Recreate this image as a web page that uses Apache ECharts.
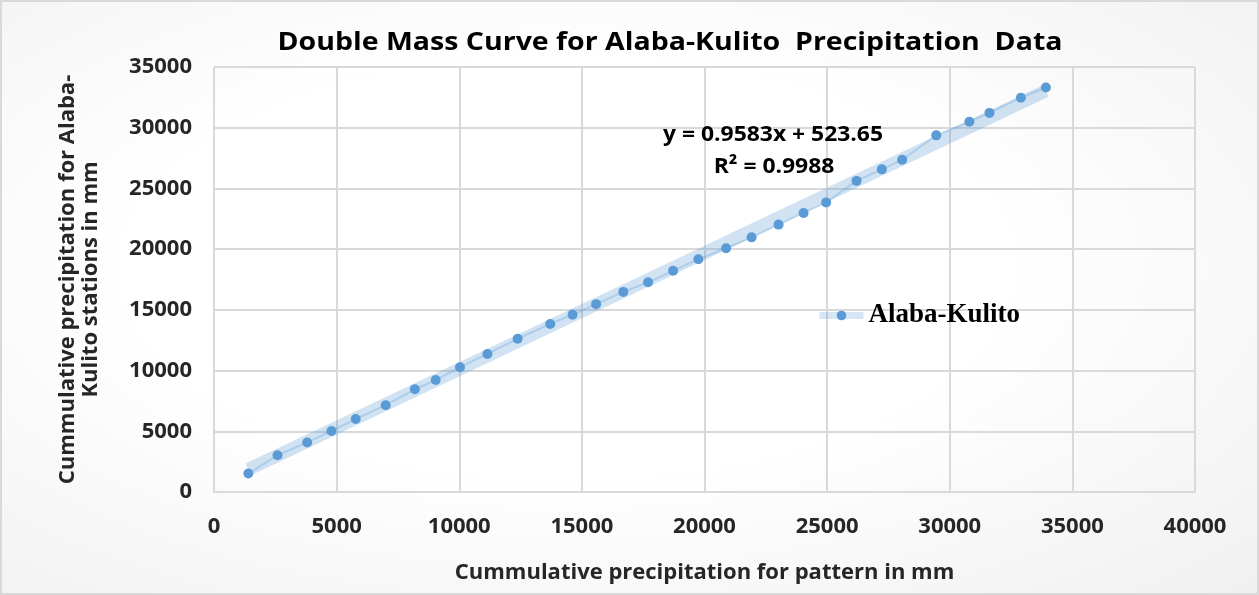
<!DOCTYPE html>
<html>
<head>
<meta charset="utf-8">
<script src="https://cdn.jsdelivr.net/npm/echarts@6/dist/echarts.min.js"></script>
<style>
  html, body { margin: 0; padding: 0; }
  #chart {
    width: 1259px; height: 595px; box-sizing: border-box;
    border: 2px solid #d9d9d9;
    background: radial-gradient(ellipse at 45% 45%, #ffffff 0%, #ffffff 45%, #f0f0f0 100%);
  }
</style>
</head>
<body>
<div id="chart"></div>
<script>
// Cumulative precipitation of the pattern (x) and Alaba-Kulito stations (y), mm
const patternCum = [1400, 2590, 3800, 4790, 5780, 7000, 8190, 9040, 10030, 11150,
  12380, 13710, 14620, 15580, 16690, 17700, 18720, 19750, 20880, 21920,
  23020, 24040, 24960, 26200, 27230, 28060, 29450, 30800, 31620, 32900, 33920];
const stationCum = [1520, 3020, 4080, 5030, 6010, 7150, 8460, 9220, 10280, 11370,
  12620, 13840, 14600, 15470, 16480, 17270, 18220, 19170, 20070, 20970,
  22020, 22980, 23850, 25620, 26570, 27360, 29370, 30490, 31220, 32470, 33310];

// Linear trend fitted to the series
const slope = 0.9583;
const intercept = 523.65;
const rSquared = 0.9988;

const xTicks = { min: 0, max: 40000, interval: 5000 };
const yTicks = { min: 0, max: 35000, interval: 5000 };

const seriesName = 'Alaba-Kulito';
const chartTitle = 'Double Mass Curve for Alaba-Kulito  Precipitation  Data';
const xName = 'Cummulative precipitation for pattern in mm';
const yName = 'Cummulative precipitation for Alaba-\nKulito stations in mm';

const points = patternCum.map((x, i) => [x, stationCum[i]]);
const xFirst = patternCum[0], xLast = patternCum[patternCum.length - 1];
const trend = [[xFirst, slope * xFirst + intercept], [xLast, slope * xLast + intercept]];

const blue = '#5B9BD5';
const uiFont = '"Open Sans", "DejaVu Sans", sans-serif';
const textColor = '#262626';
const plain = v => String(v);

const chart = echarts.init(document.getElementById('chart'), null, { renderer: 'canvas' });
chart.setOption({
  animation: false,
  backgroundColor: 'transparent',
  grid: { left: 212, right: 62, top: 65, bottom: 101 },
  legend: {
    data: [seriesName],
    left: 809, top: 295,
    itemWidth: 44, itemHeight: 12, itemGap: 8,
    lineStyle: { width: 7, color: 'rgba(91,155,213,0.25)' },
    textStyle: { fontFamily: '"Liberation Serif", "Times New Roman", serif', fontWeight: 'bold', fontSize: 27, color: '#000' }
  },
  xAxis: {
    type: 'value', min: xTicks.min, max: xTicks.max, interval: xTicks.interval,
    name: xName, nameLocation: 'middle', nameGap: 70,
    nameTextStyle: { fontFamily: uiFont, fontWeight: 'bold', fontSize: 22, color: textColor },
    axisLine: { show: true, lineStyle: { color: '#d9d9d9', width: 2 } },
    axisTick: { show: false },
    axisLabel: { fontFamily: uiFont, fontWeight: 'bold', fontSize: 22, color: textColor, margin: 24, formatter: plain },
    splitLine: { show: true, lineStyle: { color: '#d9d9d9', width: 2 } }
  },
  yAxis: {
    type: 'value', min: yTicks.min, max: yTicks.max, interval: yTicks.interval,
    name: yName, nameLocation: 'middle', nameGap: 112, nameRotate: 90,
    nameTextStyle: { fontFamily: uiFont, fontWeight: 'bold', fontSize: 22, color: textColor, lineHeight: 23 },
    axisLine: { show: false },
    axisTick: { show: false },
    axisLabel: { fontFamily: uiFont, fontWeight: 'bold', fontSize: 22, color: textColor, margin: 22, formatter: plain },
    splitLine: { show: true, lineStyle: { color: '#d9d9d9', width: 2 } }
  },
  series: [
    {
      name: 'trend',
      type: 'line',
      data: trend,
      symbol: 'none',
      silent: true,
      lineStyle: { color: 'rgba(91,155,213,0.28)', width: 13 },
      z: 2
    },
    {
      name: seriesName,
      type: 'line',
      data: points,
      symbol: 'circle', symbolSize: 10,
      itemStyle: { color: blue },
      lineStyle: { color: 'rgba(91,155,213,0.3)', width: 2 },
      z: 3
    }
  ],
  graphic: [
    {
      type: 'text', x: 668, y: 41, scaleX: 1.14, z: 100,
      style: {
        text: chartTitle, align: 'center', verticalAlign: 'middle',
        fontFamily: uiFont, fontWeight: 'bold', fontSize: 25, fill: '#000'
      }
    },
    {
      type: 'text', x: 771, y: 133, scaleX: 1.04, z: 100,
      style: {
        text: 'y = ' + slope + 'x + ' + intercept, align: 'center', verticalAlign: 'middle',
        fontFamily: uiFont, fontWeight: 'bold', fontSize: 22, fill: '#000'
      }
    },
    {
      type: 'text', x: 772, y: 165, scaleX: 1.04, z: 100,
      style: {
        text: 'R² = ' + rSquared, align: 'center', verticalAlign: 'middle',
        fontFamily: uiFont, fontWeight: 'bold', fontSize: 22, fill: '#000'
      }
    }
  ]
});
</script>
</body>
</html>
